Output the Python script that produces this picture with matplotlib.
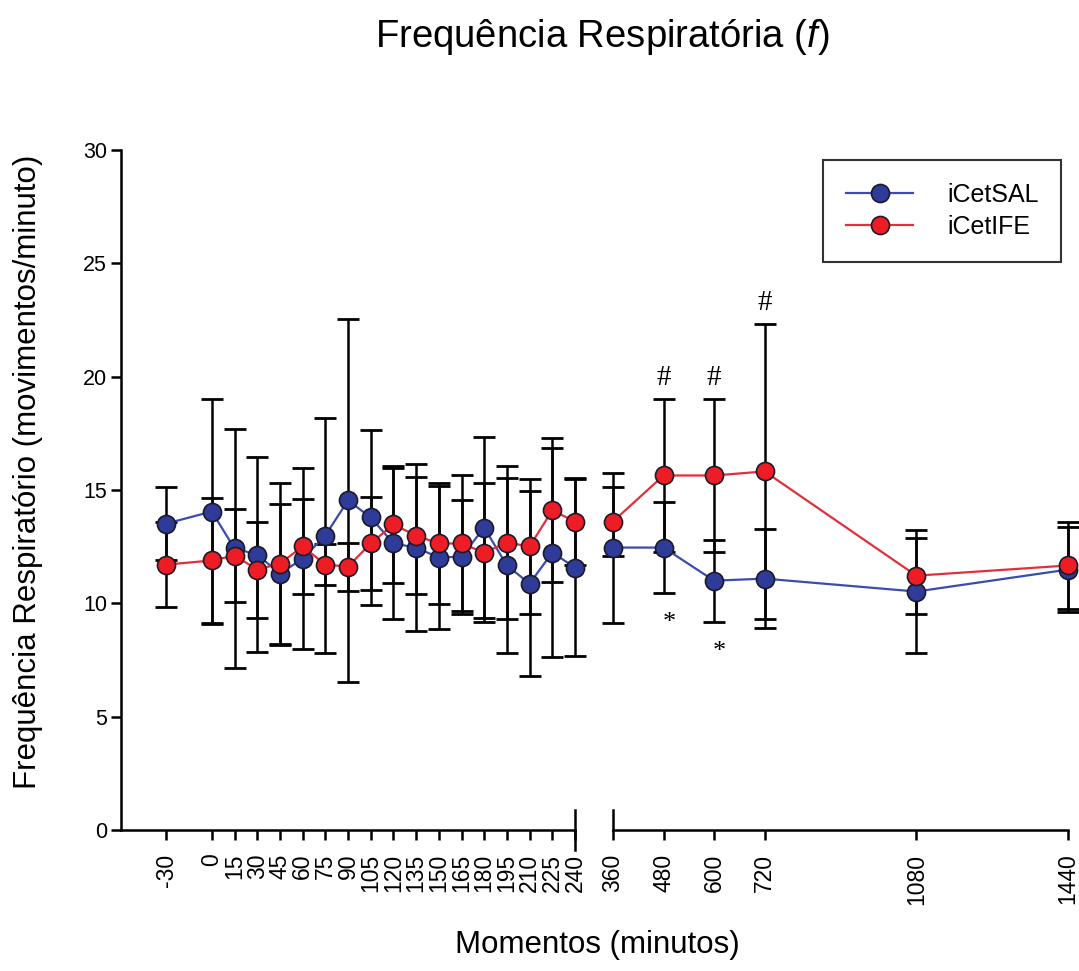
import matplotlib
matplotlib.use("Agg")
import matplotlib.pyplot as plt
from matplotlib.lines import Line2D

plt.rcParams['font.family'] = ['Liberation Sans', 'DejaVu Sans']
plt.rcParams['mathtext.fontset'] = 'custom'
plt.rcParams['mathtext.rm'] = 'Liberation Sans'
plt.rcParams['mathtext.it'] = 'Liberation Sans:italic'

# ---------------- data ----------------
times_early = [-30, 0, 15, 30, 45, 60, 75, 90, 105, 120, 135, 150, 165, 180, 195, 210, 225, 240]
times_late = [360, 480, 600, 720, 1080, 1440]

sal_early = [13.52, 14.05, 12.42, 12.15, 11.31, 11.97, 12.99, 14.54, 13.79, 12.64, 12.46, 12.02,
             12.06, 13.34, 11.67, 10.87, 12.24, 11.58]
sal_early_sd = [1.63, 4.95, 5.26, 4.31, 3.09, 3.98, 5.19, 8.00, 3.87, 3.34, 3.67, 3.14,
                2.52, 3.98, 3.84, 4.09, 4.62, 3.91]
ife_early = [11.71, 11.89, 12.11, 11.49, 11.75, 12.51, 11.71, 11.62, 12.64, 13.48, 12.99, 12.64,
             12.64, 12.24, 12.68, 12.51, 14.10, 13.61]
ife_early_sd = [1.86, 2.74, 2.05, 2.12, 3.58, 2.08, 0.91, 1.06, 2.05, 2.58, 2.58, 2.65,
                3.00, 3.07, 3.36, 2.96, 3.18, 1.90]

sal_late = [12.46, 12.46, 11.00, 11.09, 10.52, 11.49]
sal_late_sd = [3.31, 1.99, 1.81, 2.17, 2.72, 1.88]
ife_late = [13.61, 15.64, 15.64, 15.82, 11.22, 11.67]
ife_late_sd = [1.52, 3.36, 3.36, 6.50, 1.68, 1.94]

hash_times = [480, 600, 720]
star_times = [480, 600]

series_names = ['iCetSAL', 'iCetIFE']
yticks = [0, 5, 10, 15, 20, 25, 30]

# ---------------- style ----------------
blue_line = '#3a4cb0'
blue_fill = '#2e3b99'
red_line = '#e0303c'
red_fill = '#ee1c25'
edge = '#1a1a2a'

W, H = 1079, 971
fig = plt.figure(figsize=(W / 100, H / 100), dpi=100)
fig.patch.set_facecolor('white')

axL = fig.add_axes([121 / W, (H - 830) / H, 454 / W, 680 / H])
axR = fig.add_axes([613 / W, (H - 830) / H, 455 / W, 680 / H], sharey=axL)

axL.set_xlim(-60, 240)
axR.set_xlim(360, 1440)
axL.set_ylim(0, 30)

spine_w = 1.8
for ax in (axL, axR):
    ax.spines['top'].set_visible(False)
    ax.spines['right'].set_visible(False)
    ax.spines['bottom'].set_linewidth(spine_w)
    ax.spines['left'].set_linewidth(spine_w)
    ax.set_facecolor('none')
axR.spines['left'].set_visible(False)

axL.set_yticks(yticks)
axL.set_yticklabels([str(v) for v in yticks])
axL.tick_params(axis='y', direction='out', length=7, width=spine_w, labelsize=15.5, pad=3)
axR.tick_params(axis='y', left=False, labelleft=False)

axL.set_xticks(times_early)
axL.set_xticklabels([str(t) for t in times_early], rotation=90)
axR.set_xticks(times_late)
axR.set_xticklabels([str(t) for t in times_late], rotation=90)
for ax in (axL, axR):
    ax.tick_params(axis='x', direction='out', length=7, width=spine_w, labelsize=16.5, pad=10)


def draw(ax, t, sal, sal_sd, ife, ife_sd):
    ax.errorbar(t, sal, yerr=sal_sd, fmt='none', ecolor='black', elinewidth=1.8,
                capsize=8, capthick=2.0, zorder=2, clip_on=False)
    ax.errorbar(t, ife, yerr=ife_sd, fmt='none', ecolor='black', elinewidth=1.8,
                capsize=8, capthick=2.0, zorder=2, clip_on=False)
    l1, = ax.plot(t, sal, '-', color=blue_line, lw=1.6, marker='o', ms=13,
                  mfc=blue_fill, mec=edge, mew=1.2, zorder=3, clip_on=False)
    l2, = ax.plot(t, ife, '-', color=red_line, lw=1.6, marker='o', ms=13,
                  mfc=red_fill, mec=edge, mew=1.2, zorder=4, clip_on=False)
    return l1, l2


draw(axL, times_early, sal_early, sal_early_sd, ife_early, ife_early_sd)
h1, h2 = draw(axR, times_late, sal_late, sal_late_sd, ife_late, ife_late_sd)

# significance marks
for t in hash_times:
    i = times_late.index(t)
    axR.annotate('#', xy=(t, ife_late[i] + ife_late_sd[i]), xytext=(0, 6),
                 textcoords='offset points', ha='center', va='bottom',
                 fontsize=21, family='Liberation Serif')
for t in star_times:
    i = times_late.index(t)
    axR.annotate('*', xy=(t, sal_late[i] - sal_late_sd[i]), xytext=(4, -14),
                 textcoords='offset points', ha='center', va='top',
                 fontsize=19, family='Liberation Serif')

# axis break marks
fig.add_artist(Line2D([575 / W, 575 / W], [(H - 850) / H, (H - 810) / H],
                      color='black', lw=spine_w))
fig.add_artist(Line2D([613 / W, 613 / W], [(H - 830) / H, (H - 810) / H],
                      color='black', lw=spine_w))

# legend
leg = fig.legend([h1, h2], series_names, loc='upper right',
                 bbox_to_anchor=(1061 / W, 1 - 160 / H), bbox_transform=fig.transFigure,
                 fontsize=18, frameon=True, fancybox=False, edgecolor='black',
                 handlelength=2.7, handletextpad=1.35, borderpad=0.9, labelspacing=0.35,
                 borderaxespad=0)
leg.get_frame().set_linewidth(1.5)

# texts
fig.text(602 / W, 1 - 37 / H, 'Frequência Respiratória ($\\mathit{f}$)', ha='center',
         va='center', fontsize=27.5)
fig.text(28 / W, 1 - 472 / H, 'Frequência Respiratório (movimentos/minuto)', rotation=90,
         ha='center', va='center', fontsize=22.5)
fig.text(597 / W, 1 - 945 / H, 'Momentos (minutos)', ha='center', va='center', fontsize=22.5)

fig.savefig('out.png', dpi=100)
